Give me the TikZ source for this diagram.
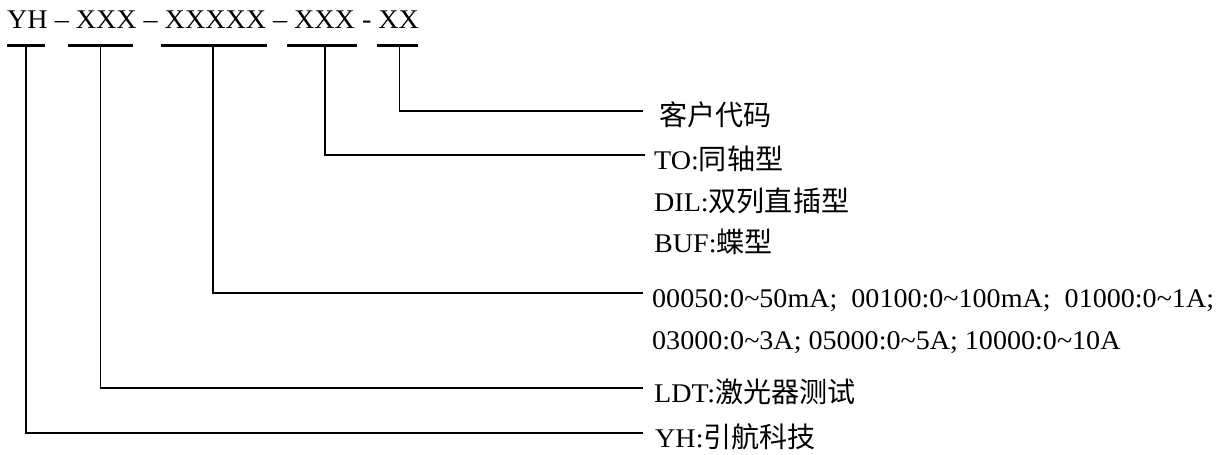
\documentclass[tikz,border=0pt]{standalone}
\usepackage{fontspec}
\setmainfont[FakeStretch=1.04]{Liberation Serif}
\newfontfamily\cjk[Scale=1.04]{Noto Sans CJK SC}
\newcommand\tld{\textasciitilde}
\begin{document}
\begin{tikzpicture}[x=1pt,y=-1pt,
  lbl/.style={anchor=base west,inner sep=0pt,font=\fontsize{27}{31}\selectfont},
  bar/.style={line width=3pt},
  conn/.style={line width=1.8pt}]
\useasboundingbox (0,0) rectangle (1221,455);
% header
\node[lbl] (hdr) at (7,28) {YH – XXX – XXXXX – XXX - XX};
\coordinate (b1) at (26,45);
\coordinate (b2) at (100.5,45);
\coordinate (b3) at (213,45);
\coordinate (b4) at (325,45);
\coordinate (b5) at (399.5,45);
\draw[bar] (7,45) -- (45,45);
\draw[bar] (68,45) -- (133,45);
\draw[bar] (161,45) -- (267,45);
\draw[bar] (287,45) -- (357,45);
\draw[bar] (377,45) -- (418,45);
% line end points
\coordinate (e1) at (643,111);
\coordinate (e2) at (645,155);
\coordinate (e3) at (643,293);
\coordinate (e4) at (643,388);
\coordinate (e5) at (643,433);
% labels
\node[lbl] (l1) at (659,125) {{\cjk 客户代码}};
\node[lbl] (l2) at (654,169) {TO:{\cjk 同轴型}};
\node[lbl] (l2b) at (654,211) {DIL:{\cjk 双列直插型}};
\node[lbl] (l2c) at (654,252) {BUF:{\cjk 蝶型}};
\node[lbl] (l3) at (652,307) {00050:0\tld50mA;\hspace{14pt}00100:0\tld100mA;\hspace{14pt}01000:0\tld1A;};
\node[lbl] (l3b) at (652,349) {03000:0\tld3A; 05000:0\tld5A; 10000:0\tld10A};
\node[lbl] (l4) at (654,402) {LDT:{\cjk 激光器测试}};
\node[lbl] (l5) at (655,447) {YH:{\cjk 引航科技}};
% connectors
\draw[conn] (b5) |- (e1);
\draw[conn] (b4) |- (e2);
\draw[conn] (b3) |- (e3);
\draw[conn] (b2) |- (e4);
\draw[conn] (b1) |- (e5);
\end{tikzpicture}
\end{document}
